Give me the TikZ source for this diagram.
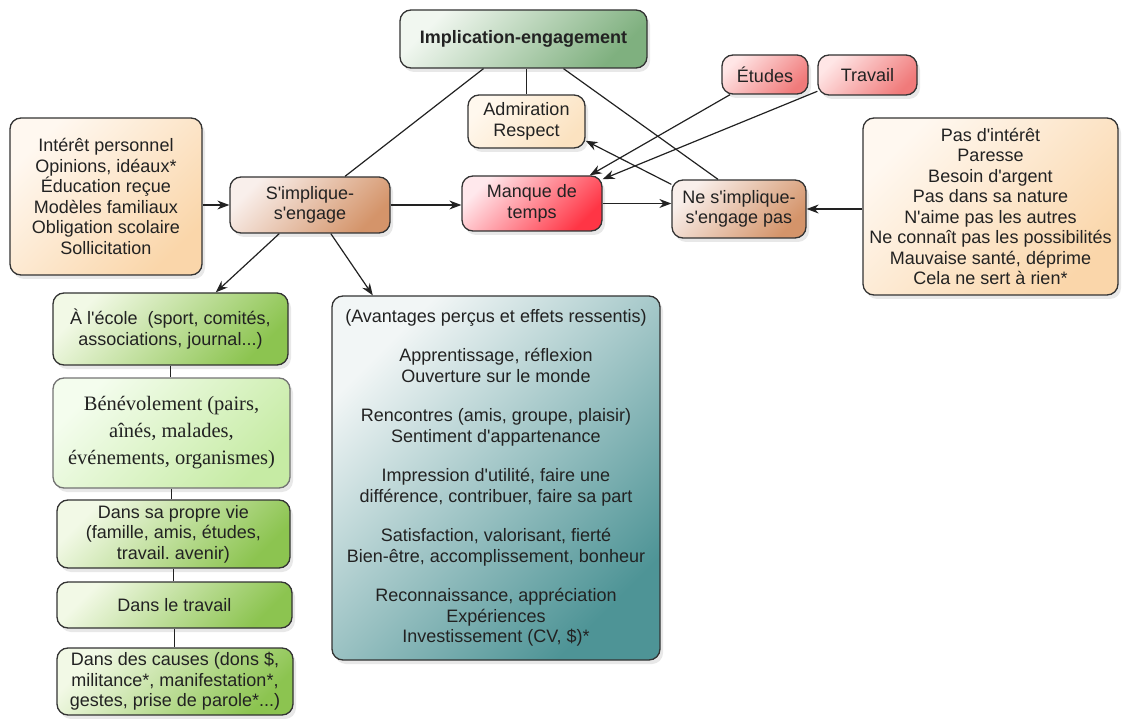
\documentclass[tikz,border=0pt]{standalone}
\usepackage{fontspec}
\setmainfont{Liberation Sans}[Ligatures=TeXOff]
\newfontfamily\timesfont{Liberation Serif}
\usetikzlibrary{arrows.meta,shadows}
\frenchspacing
\definecolor{boxline}{HTML}{333333}
\definecolor{txt}{HTML}{222222}
\definecolor{implA}{HTML}{F1F7F0}\definecolor{implB}{HTML}{7FB07F}
\definecolor{admA}{HTML}{FFF8EE}\definecolor{admB}{HTML}{FBE2C0}
\definecolor{redA}{HTML}{FFE6E6}\definecolor{redB}{HTML}{F07A7A}
\definecolor{peachA}{HTML}{FFF8F0}\definecolor{peachB}{HTML}{FAD6AA}
\definecolor{brownA}{HTML}{F9EFEB}\definecolor{brownB}{HTML}{D4946A}
\definecolor{manqA}{HTML}{FFE8EC}\definecolor{manqB}{HTML}{FF3545}
\definecolor{greenA}{HTML}{F2F9E6}\definecolor{greenB}{HTML}{8CC450}
\definecolor{beneA}{HTML}{F4FDEE}\definecolor{beneB}{HTML}{C6EBA4}
\definecolor{tealA}{HTML}{F2F6F6}\definecolor{tealB}{HTML}{4E9496}
\begin{document}
\begin{tikzpicture}[x=1pt,y=-1pt,
  box/.style={draw=boxline, line width=1.3pt, rounded corners=11pt, align=center,
    inner sep=2pt, text=txt, font=\fontsize{18}{20.5}\selectfont,
    drop shadow={shadow xshift=3pt,shadow yshift=-4pt,opacity=0.18}},
  grad/.style 2 args={top color=#1, bottom color=#2, shading angle=45},
  sz/.style 2 args={minimum width=#1, minimum height=#2},
  link/.style={draw=txt, line width=1.2pt},
  arr/.style={link, -{Stealth[length=12pt,width=9pt]}}
]
\useasboundingbox (0,0) rectangle (1122,719);

\node[box, grad={implA}{implB}, sz={247pt}{58pt}, font=\fontsize{18}{20.5}\selectfont\bfseries] (impl) at (523.5,39) {Implication-engagement};
\node[box, grad={admA}{admB}, sz={117pt}{53pt}] (adm) at (526.5,121.5) {Admiration\\Respect};
\node[box, grad={redA}{redB}, sz={86pt}{39pt}] (etu) at (765,74.5) {Études};
\node[box, grad={redA}{redB}, sz={99pt}{40pt}] (trav) at (867.5,75) {Travail};
\node[box, grad={peachA}{peachB}, sz={192pt}{157pt}] (motifs) at (106,196.5)
  {Intérêt personnel\\Opinions, idéaux*\\Éducation reçue\\Modèles familiaux\\Obligation scolaire\\Sollicitation};
\node[box, grad={brownA}{brownB}, sz={160pt}{56pt}] (simp) at (310,205) {S'implique-\\s'engage};
\node[box, grad={manqA}{manqB}, sz={140pt}{55pt}] (manq) at (532,203.5) {Manque de\\temps};
\node[box, grad={brownA}{brownB}, sz={134pt}{58pt}] (nesimp) at (739,209) {Ne s'implique-\\s'engage pas};
\node[box, grad={peachA}{peachB}, sz={255pt}{177pt}] (raisons) at (990.5,206.5)
  {Pas d'intérêt\\Paresse\\Besoin d'argent\\Pas dans sa nature\\N'aime pas les autres\\Ne connaît pas les possibilités\\Mauvaise santé, déprime\\Cela ne sert à rien*};

\node[box, grad={greenA}{greenB}, sz={235pt}{72pt}] (ecole) at (170.5,329) {À l'école\ \ (sport, comités,\\associations, journal...)};
\node[box, grad={beneA}{beneB}, draw=black!55, sz={237pt}{110pt}, font=\timesfont\fontsize{20.5}{27}\selectfont] (bene) at (171.5,433) {Bénévolement (pairs,\\aînés, malades,\\événements, organismes)};
\node[box, grad={greenA}{greenB}, sz={233pt}{68pt}] (vie) at (173.5,534) {Dans sa propre vie\\(famille, amis, études,\\travail. avenir)};
\node[box, grad={greenA}{greenB}, sz={235pt}{46pt}] (dtrav) at (174.5,605) {Dans le travail};
\node[box, grad={greenA}{greenB}, sz={236pt}{67pt}] (causes) at (175,681.5) {Dans des causes (dons \$,\\militance*, manifestation*,\\gestes, prise de parole*...)};

\node[box, grad={tealA}{tealB}, sz={328pt}{364pt}] (avant) at (496,478)
  {(Avantages perçus et effets ressentis)\\[19pt]
   Apprentissage, réflexion\\Ouverture sur le monde\\[19pt]
   Rencontres (amis, groupe, plaisir)\\Sentiment d'appartenance\\[19pt]
   Impression d'utilité, faire une\\différence, contribuer, faire sa part\\[19pt]
   Satisfaction, valorisant, fierté\\Bien-être, accomplissement, bonheur\\[19pt]
   Reconnaissance, appréciation\\Expériences\\Investissement (CV, \$)*};

% plain links from the top node
\draw[link] ([xshift=-40pt]impl.south) -- ([xshift=35pt]simp.north);
\draw[link] (adm.north |- impl.south) -- (adm.north);
\draw[link] ([xshift=40pt]impl.south) -- ([xshift=-21pt]nesimp.north);

% arrows
\draw[arr] (motifs.east |- simp.west) -- (simp.west);
\draw[arr] (simp.east) -- (simp.east -| manq.west);
\draw[arr] (manq.east) -- (manq.east -| nesimp.west);
\draw[arr] (raisons.west |- nesimp.east) -- (nesimp.east);
\draw[arr] (nesimp.160) -- (adm.-18);
\draw[arr] (etu.210) -- (manq.26);
\draw[arr] (trav.198) -- (manq.19);
\draw[arr] (simp.223) -- (ecole.39);
\draw[arr] (simp.-54.5) -- (avant.124);

% chain of green boxes
\draw[link] (ecole.south) -- (ecole.south |- bene.north);
\draw[link] (bene.south) -- (bene.south |- vie.north);
\draw[link] (vie.south) -- (vie.south |- dtrav.north);
\draw[link] (dtrav.south) -- (dtrav.south |- causes.north);
\end{tikzpicture}
\end{document}
